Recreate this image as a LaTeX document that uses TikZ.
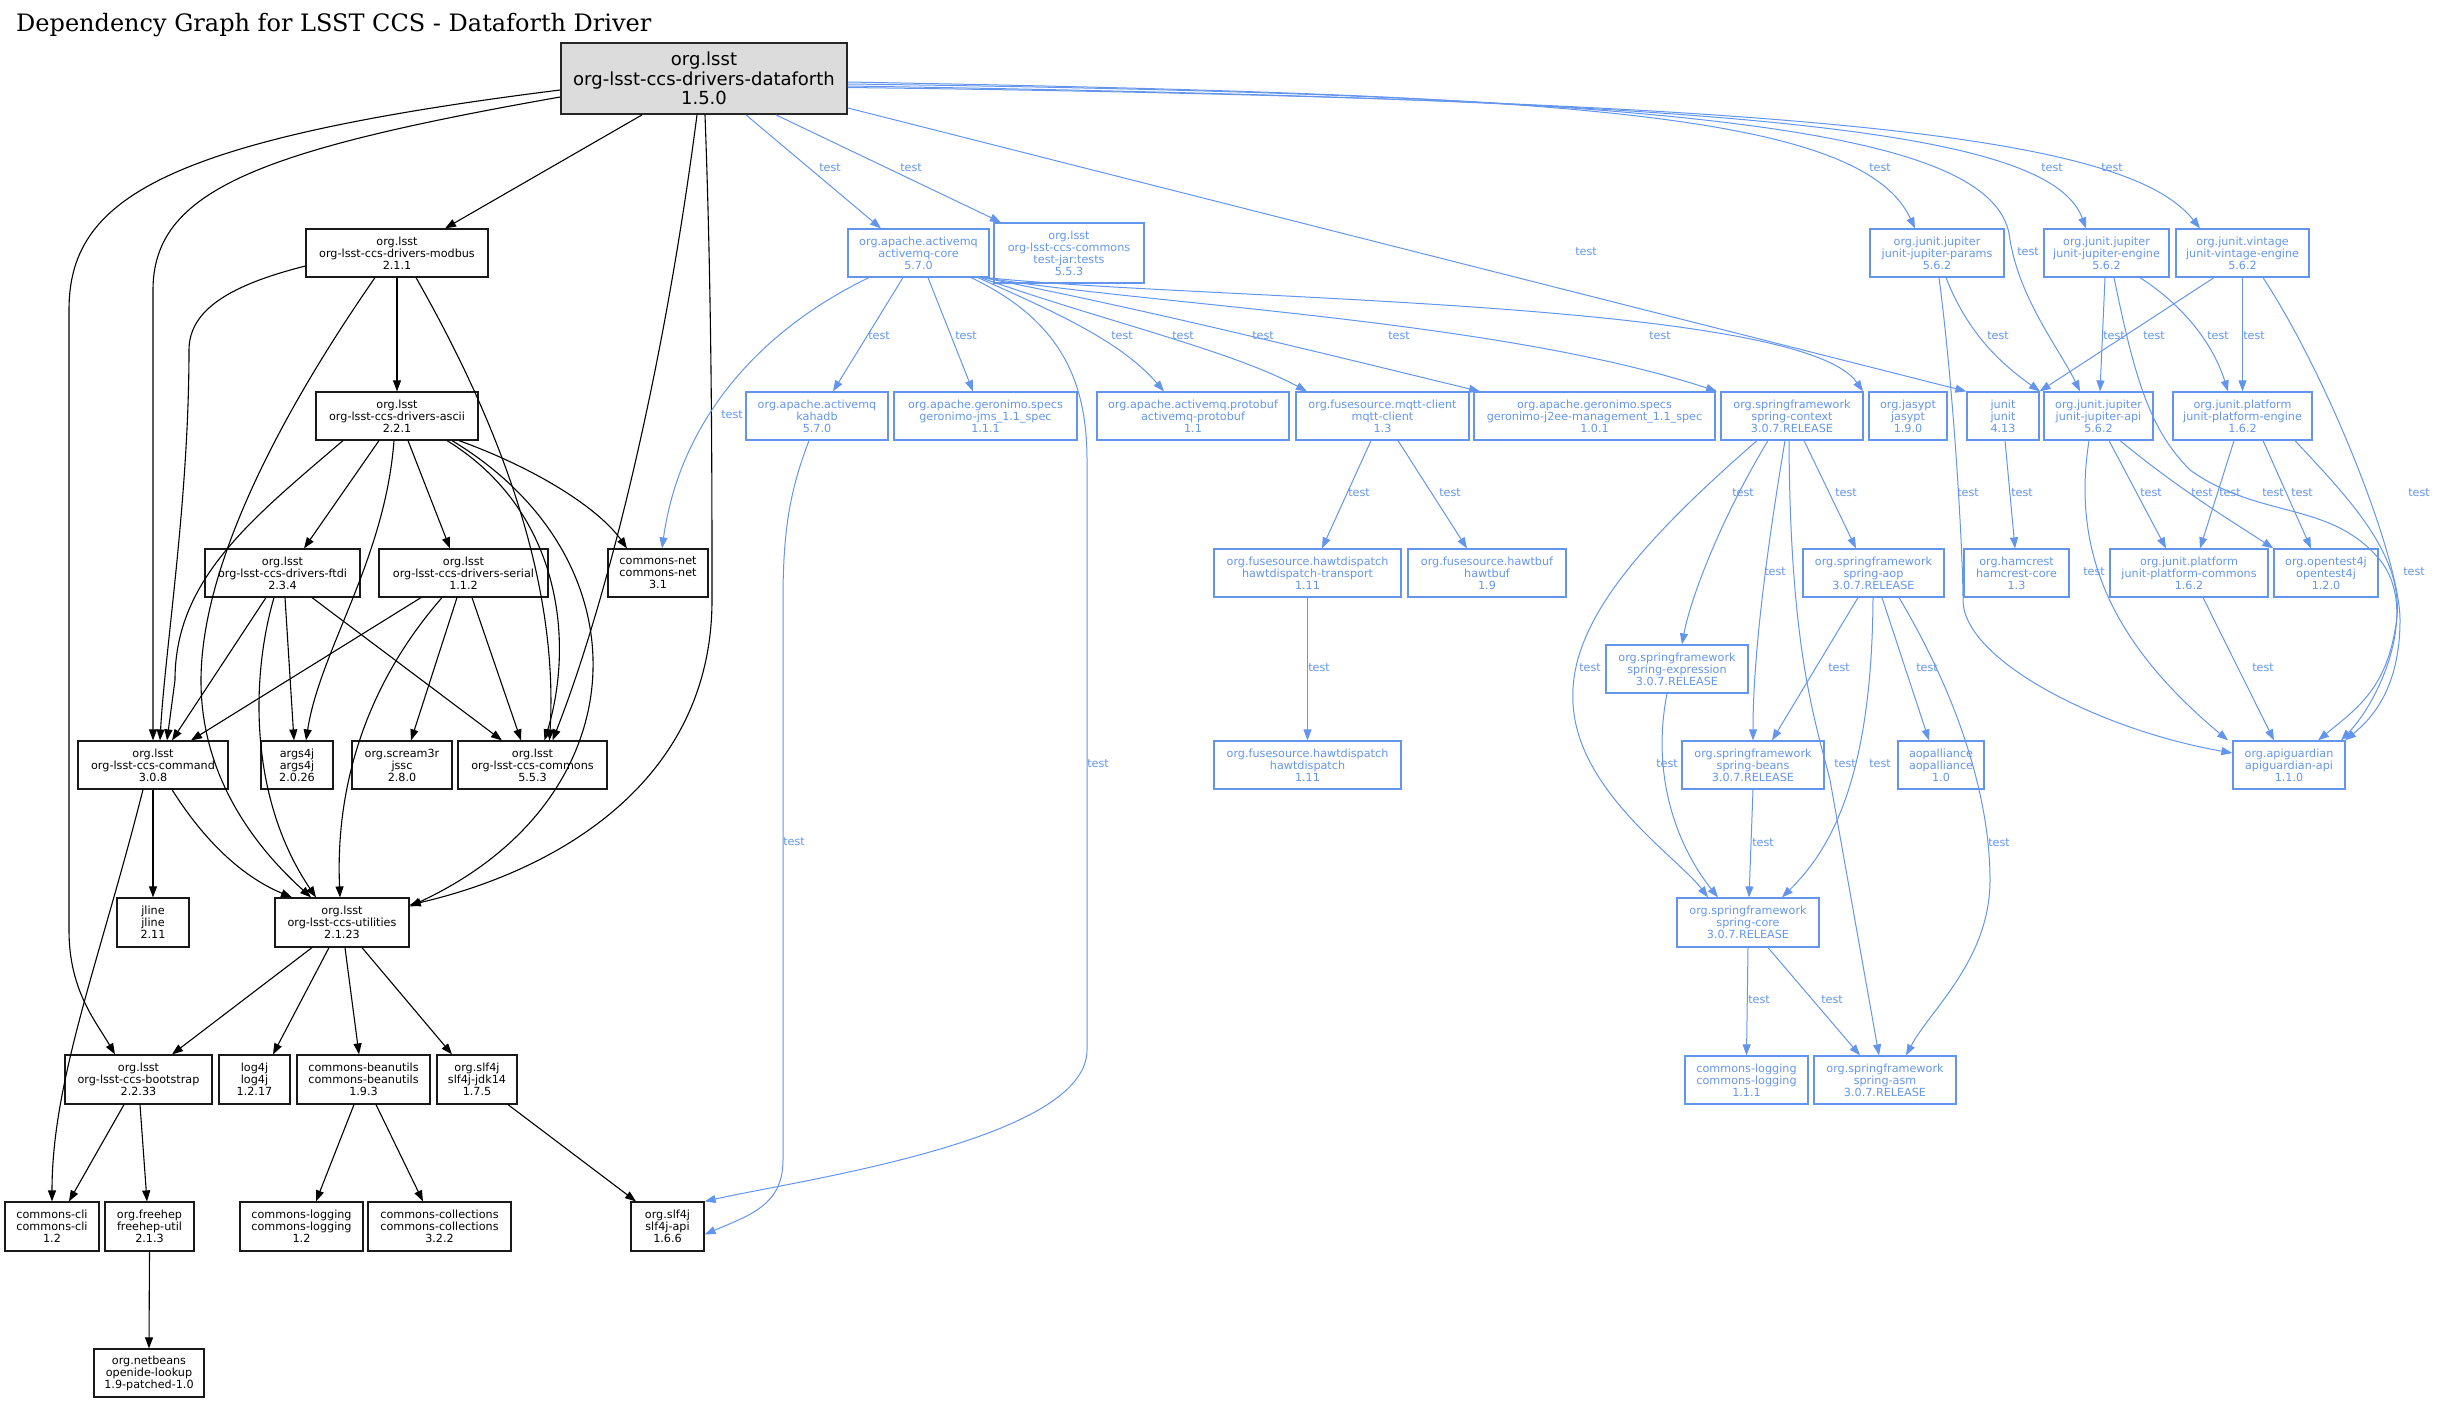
\documentclass[tikz,border=0pt]{standalone}
\usepackage{fontspec}
\setmainfont{DejaVu Sans}
\newfontfamily\titlefont{DejaVu Serif}
\usetikzlibrary{arrows.meta}
\definecolor{tblue}{HTML}{6495ED}
\definecolor{rootfill}{HTML}{DCDCDC}
\newcommand\smallfnt{\fontsize{11.2}{12}\selectfont}
\newcommand\mknode[7]{\node[#2, minimum width={#4pt-#3pt}, minimum height={#6pt-#5pt}] (#1) at ({(#3+#4)/2},{(#5+#6)/2}) {#7};}
\tikzset{
  bn/.style={draw=black!90, line width=1.2pt, text=black, font=\smallfnt, align=center, inner sep=0pt, rectangle},
  tn/.style={draw=tblue, line width=1.2pt, text=tblue, font=\smallfnt, align=center, inner sep=0pt, rectangle},
  rn/.style={draw=black!85, line width=1.8pt, fill=rootfill, text=black, font=\fontsize{18}{19.5}\selectfont, align=center, inner sep=0pt},
  be/.style={draw=black, line width=1.1pt, -{Triangle[length=11pt,width=8pt]}},
  te/.style={draw=tblue, line width=1pt, -{Triangle[length=11pt,width=8pt]}},
  lbl/.style={text=tblue, font=\smallfnt, inner sep=0pt},
}
\begin{document}
\begin{tikzpicture}[x=1pt,y=-1pt]
\useasboundingbox (0,0) rectangle (2444,1403);
\node[anchor=base west, font=\titlefont\fontsize{24}{28}\selectfont, inner sep=0pt] (title) at (16,31) {Dependency Graph for LSST CCS - Dataforth Driver};
% ---- compile nodes
\mknode{root}{rn}{561}{847}{43}{114}{org.lsst\\org-lsst-ccs-drivers-dataforth\\1.5.0}
\mknode{modbus}{bn}{306}{488}{229}{277}{org.lsst\\org-lsst-ccs-drivers-modbus\\2.1.1}
\mknode{ascii}{bn}{316}{478}{392}{440}{org.lsst\\org-lsst-ccs-drivers-ascii\\2.2.1}
\mknode{ftdi}{bn}{205}{360}{549}{597}{org.lsst\\org-lsst-ccs-drivers-ftdi\\2.3.4}
\mknode{serial}{bn}{379}{548}{549}{597}{org.lsst\\org-lsst-ccs-drivers-serial\\1.1.2}
\mknode{cnet}{bn}{608}{708}{549}{597}{commons-net\\commons-net\\3.1}
\mknode{command}{bn}{78}{228}{741}{789}{org.lsst\\org-lsst-ccs-command\\3.0.8}
\mknode{args4j}{bn}{261}{333}{741}{789}{args4j\\args4j\\2.0.26}
\mknode{jssc}{bn}{352}{452}{741}{789}{org.scream3r\\jssc\\2.8.0}
\mknode{commons}{bn}{458}{607}{741}{789}{org.lsst\\org-lsst-ccs-commons\\5.5.3}
\mknode{jline}{bn}{117}{189}{898}{947}{jline\\jline\\2.11}
\mknode{utilities}{bn}{275}{409}{898}{947}{org.lsst\\org-lsst-ccs-utilities\\2.1.23}
\mknode{bootstrap}{bn}{65}{212}{1055}{1104}{org.lsst\\org-lsst-ccs-bootstrap\\2.2.33}
\mknode{log4j}{bn}{219}{290}{1055}{1104}{log4j\\log4j\\1.2.17}
\mknode{beanutils}{bn}{297}{430}{1055}{1104}{commons-beanutils\\commons-beanutils\\1.9.3}
\mknode{jdk14}{bn}{437}{517}{1055}{1104}{org.slf4j\\slf4j-jdk14\\1.7.5}
\mknode{cli}{bn}{5}{99}{1202}{1251}{commons-cli\\commons-cli\\1.2}
\mknode{freehep}{bn}{105}{194}{1202}{1251}{org.freehep\\freehep-util\\2.1.3}
\mknode{clog12}{bn}{240}{363}{1202}{1251}{commons-logging\\commons-logging\\1.2}
\mknode{ccoll}{bn}{368}{511}{1202}{1251}{commons-collections\\commons-collections\\3.2.2}
\mknode{slfapi}{bn}{631}{704}{1202}{1251}{org.slf4j\\slf4j-api\\1.6.6}
\mknode{openide}{bn}{94}{204}{1349}{1397}{org.netbeans\\openide-lookup\\1.9-patched-1.0}
% ---- test nodes
\mknode{amqcore}{tn}{848}{989}{229}{277}{org.apache.activemq\\activemq-core\\5.7.0}
\mknode{testjar}{tn}{994}{1144}{223}{283}{org.lsst\\org-lsst-ccs-commons\\test-jar:tests\\5.5.3}
\mknode{kahadb}{tn}{746}{888}{392}{440}{org.apache.activemq\\kahadb\\5.7.0}
\mknode{gjms}{tn}{894}{1077}{392}{440}{org.apache.geronimo.specs\\geronimo-jms\_1.1\_spec\\1.1.1}
\mknode{protobuf}{tn}{1097}{1289}{392}{440}{org.apache.activemq.protobuf\\activemq-protobuf\\1.1}
\mknode{mqtt}{tn}{1296}{1469}{392}{440}{org.fusesource.mqtt-client\\mqtt-client\\1.3}
\mknode{jee}{tn}{1474}{1715}{392}{440}{org.apache.geronimo.specs\\geronimo-j2ee-management\_1.1\_spec\\1.0.1}
\mknode{sctx}{tn}{1721}{1863}{392}{440}{org.springframework\\spring-context\\3.0.7.RELEASE}
\mknode{jasypt}{tn}{1869}{1947}{392}{440}{org.jasypt\\jasypt\\1.9.0}
\mknode{junit}{tn}{1967}{2039}{392}{440}{junit\\junit\\4.13}
\mknode{japi}{tn}{2044}{2153}{392}{440}{org.junit.jupiter\\junit-jupiter-api\\5.6.2}
\mknode{peng}{tn}{2173}{2312}{392}{440}{org.junit.platform\\junit-platform-engine\\1.6.2}
\mknode{jparams}{tn}{1870}{2004}{229}{277}{org.junit.jupiter\\junit-jupiter-params\\5.6.2}
\mknode{jengine}{tn}{2044}{2169}{229}{277}{org.junit.jupiter\\junit-jupiter-engine\\5.6.2}
\mknode{vintage}{tn}{2176}{2309}{229}{277}{org.junit.vintage\\junit-vintage-engine\\5.6.2}
\mknode{hdtrans}{tn}{1214}{1401}{549}{597}{org.fusesource.hawtdispatch\\hawtdispatch-transport\\1.11}
\mknode{hawtbuf}{tn}{1408}{1566}{549}{597}{org.fusesource.hawtbuf\\hawtbuf\\1.9}
\mknode{saop}{tn}{1803}{1944}{549}{597}{org.springframework\\spring-aop\\3.0.7.RELEASE}
\mknode{hamcrest}{tn}{1964}{2069}{549}{597}{org.hamcrest\\hamcrest-core\\1.3}
\mknode{pcommons}{tn}{2110}{2268}{549}{597}{org.junit.platform\\junit-platform-commons\\1.6.2}
\mknode{otj}{tn}{2274}{2378}{549}{597}{org.opentest4j\\opentest4j\\1.2.0}
\mknode{sexpr}{tn}{1606}{1748}{645}{693}{org.springframework\\spring-expression\\3.0.7.RELEASE}
\mknode{hd}{tn}{1214}{1401}{741}{789}{org.fusesource.hawtdispatch\\hawtdispatch\\1.11}
\mknode{sbeans}{tn}{1682}{1824}{741}{789}{org.springframework\\spring-beans\\3.0.7.RELEASE}
\mknode{aop}{tn}{1898}{1984}{741}{789}{aopalliance\\aopalliance\\1.0}
\mknode{apig}{tn}{2233}{2345}{741}{789}{org.apiguardian\\apiguardian-api\\1.1.0}
\mknode{score}{tn}{1677}{1819}{898}{947}{org.springframework\\spring-core\\3.0.7.RELEASE}
\mknode{clogb}{tn}{1685}{1808}{1056}{1104}{commons-logging\\commons-logging\\1.1.1}
\mknode{sasm}{tn}{1814}{1956}{1056}{1104}{org.springframework\\spring-asm\\3.0.7.RELEASE}
% ---- compile edges
\draw[be] ([xshift=-62pt]root.south) -- ([xshift=48pt]modbus.north);
\draw[be] ([yshift=-18.5pt]root.west) .. controls (260,150) and (153,190) .. (153,290) -- (command.north);
\draw[be] ([yshift=-11.5pt]root.west) .. controls (160,140) and (69,200) .. (69,310) -- (69,930) .. controls (69,990) and (95,1020) .. ([xshift=-23.5pt]bootstrap.north);
\draw[be] ([xshift=-7pt]root.south) .. controls (660,400) and (600,620) .. ([xshift=20pt]commons.north);
\draw[be] ([xshift=1pt]root.south) .. controls (712,300) and (712,480) .. (712,600) .. controls (712,780) and (560,870) .. ([yshift=17.5pt]utilities.east);
\draw[be] ([yshift=-13pt]modbus.west) .. controls (230,285) and (189,310) .. (189,350) .. controls (189,500) and (165,650) .. ([xshift=7pt]command.north);
\draw[be] ([xshift=-22pt]modbus.south) .. controls (290,400) and (200,560) .. (201,683) .. controls (202,790) and (270,860) .. ([xshift=-31pt]utilities.north);
\draw[be] (modbus.south) -- (ascii.north);
\draw[be] ([xshift=19pt]modbus.south) .. controls (480,390) and (560,560) .. ([xshift=17pt]commons.north);
\draw[be] ([xshift=-54pt]ascii.south) .. controls (250,520) and (175,580) .. (175,680) -- ([xshift=14pt]command.north);
\draw[be] ([xshift=-18pt]ascii.south) -- ([xshift=21.5pt]ftdi.north);
\draw[be] ([xshift=-3pt]ascii.south) .. controls (385,560) and (320,650) .. ([xshift=9pt]args4j.north);
\draw[be] ([xshift=11pt]ascii.south) -- ([xshift=-13.5pt]serial.north);
\draw[be] ([xshift=62pt]ascii.south) .. controls (540,470) and (600,510) .. ([xshift=-31pt]cnet.north);
\draw[be] ([xshift=50pt]ascii.south) .. controls (560,510) and (575,640) .. ([xshift=12pt]commons.north);
\draw[be] ([xshift=55pt]ascii.south) .. controls (650,560) and (640,800) .. ([yshift=16pt]utilities.east);
\draw[be] ([xshift=-16.5pt]ftdi.south) -- ([xshift=19pt]command.north);
\draw[be] ([xshift=-8.5pt]ftdi.south) .. controls (250,680) and (250,800) .. ([xshift=-26pt]utilities.north);
\draw[be] ([xshift=2.5pt]ftdi.south) -- ([xshift=-3pt]args4j.north);
\draw[be] ([xshift=29.5pt]ftdi.south) -- ([xshift=-30.5pt]commons.north);
\draw[be] ([xshift=-42.5pt]serial.south) -- ([xshift=38pt]command.north);
\draw[be] ([xshift=-21.5pt]serial.south) .. controls (370,680) and (335,780) .. ([xshift=-2pt]utilities.north);
\draw[be] ([xshift=-6.5pt]serial.south) -- ([xshift=9pt]jssc.north);
\draw[be] ([xshift=8.5pt]serial.south) -- ([xshift=-11.5pt]commons.north);
\draw[be] (command.south) -- (jline.north);
\draw[be] ([xshift=19pt]command.south) .. controls (210,850) and (250,880) .. ([xshift=-50pt]utilities.north);
\draw[be] ([xshift=-10pt]command.south) .. controls (100,960) and (52,1080) .. (cli.north);
\draw[be] ([xshift=-30pt]utilities.south) -- ([xshift=33.5pt]bootstrap.north);
\draw[be] ([xshift=-13pt]utilities.south) -- ([xshift=18.5pt]log4j.north);
\draw[be] ([xshift=3pt]utilities.south) -- ([xshift=-4.5pt]beanutils.north);
\draw[be] ([xshift=20pt]utilities.south) -- ([xshift=-25pt]jdk14.north);
\draw[be] ([xshift=-14.5pt]bootstrap.south) -- ([xshift=17pt]cli.north);
\draw[be] ([xshift=1.5pt]bootstrap.south) -- ([xshift=-2.5pt]freehep.north);
\draw[be] ([xshift=-9.5pt]beanutils.south) -- ([xshift=14.5pt]clog12.north);
\draw[be] ([xshift=12.5pt]beanutils.south) -- ([xshift=-16.5pt]ccoll.north);
\draw[be] ([xshift=31pt]jdk14.south) -- ([xshift=-31.5pt]slfapi.north);
\draw[be] (freehep.south) -- (openide.north);
% ---- test edges
\draw[te] ([xshift=42pt]root.south) -- ([xshift=-37.5pt]amqcore.north);
\draw[te] ([xshift=72pt]root.south) -- ([xshift=-68pt]testjar.north);
\draw[te] ([yshift=-29.5pt]root.east) -- (junit.north west);
\draw[te] ([yshift=-3.5pt]root.east) .. controls (1550,95) and (1860,110) .. ([xshift=-22pt]jparams.north);
\draw[te] ([yshift=-5.5pt]root.east) .. controls (1700,95) and (2000,130) .. (2010,240) .. controls (2020,300) and (2060,350) .. ([xshift=-18.5pt]japi.north);
\draw[te] ([yshift=-7.5pt]root.east) .. controls (1750,100) and (2050,130) .. ([xshift=-20.5pt]jengine.north);
\draw[te] ([yshift=-9pt]root.east) .. controls (1850,100) and (2130,140) .. ([xshift=-42.5pt]vintage.north);
\draw[te] ([xshift=-49.5pt]amqcore.south) .. controls (760,330) and (680,420) .. ([xshift=4pt]cnet.north);
\draw[te] ([xshift=-15.5pt]amqcore.south) -- ([xshift=16pt]kahadb.north);
\draw[te] ([xshift=9.5pt]amqcore.south) -- ([xshift=-12.5pt]gjms.north);
\draw[te] ([xshift=52.5pt]amqcore.south) .. controls (1060,320) and (1087,380) .. (1087,460) -- (1087,1050) .. controls (1087,1140) and (800,1180) .. (slfapi.north east);
\draw[te] ([xshift=59.5pt]amqcore.south) .. controls (1050,310) and (1120,340) .. ([xshift=-29pt]protobuf.north);
\draw[te] ([xshift=62pt]amqcore.south) .. controls (1100,320) and (1230,350) .. ([xshift=-75.5pt]mqtt.north);
\draw[te] ([xshift=64pt]amqcore.south) .. controls (1150,310) and (1350,360) .. ([xshift=-114.5pt]jee.north);
\draw[te] ([xshift=66pt]amqcore.south) .. controls (1150,305) and (1500,320) .. ([xshift=-75pt]sctx.north);
\draw[te] ([xshift=68pt]amqcore.south) .. controls (1200,300) and (1800,300) .. ([xshift=-45pt]jasypt.north);
\draw[te] ([xshift=-8pt]kahadb.south) .. controls (790,490) and (783,530) .. (783,600) -- (783,1160) .. controls (783,1205) and (750,1215) .. ([yshift=-8pt]slfapi.east);
\draw[te] ([xshift=-11.5pt]mqtt.south) -- ([xshift=14.5pt]hdtrans.north);
\draw[te] ([xshift=15.5pt]mqtt.south) -- ([xshift=-20pt]hawtbuf.north);
\draw[te] (hdtrans.south) -- (hd.north);
\draw[te] ([xshift=-35pt]sctx.south) .. controls (1620,560) and (1560,640) .. (1575,720) .. controls (1590,800) and (1680,860) .. ([xshift=-40pt]score.north);
\draw[te] ([xshift=-24pt]sctx.south) .. controls (1720,520) and (1690,600) .. ([xshift=5pt]sexpr.north);
\draw[te] ([xshift=-7pt]sctx.south) .. controls (1765,560) and (1753,660) .. (sbeans.north);
\draw[te] ([xshift=-3pt]sctx.south) .. controls (1790,650) and (1815,720) .. (1830,780) -- ([xshift=-6pt]sasm.north);
\draw[te] ([xshift=12pt]sctx.south) -- ([xshift=-17.5pt]saop.north);
\draw[te] ([xshift=-15.5pt]saop.south) -- ([xshift=19pt]sbeans.north);
\draw[te] ([xshift=-0.5pt]saop.south) .. controls (1872,780) and (1830,850) .. ([xshift=34pt]score.north);
\draw[te] ([xshift=8.5pt]saop.south) -- ([xshift=-12pt]aop.north);
\draw[te] ([xshift=25.5pt]saop.south) .. controls (1960,700) and (1990,800) .. (1990,880) .. controls (1990,960) and (1930,1010) .. ([xshift=21pt]sasm.north);
\draw[te] ([xshift=-10pt]sexpr.south) .. controls (1650,780) and (1680,850) .. ([xshift=-30pt]score.north);
\draw[te] (sbeans.south) -- ([xshift=1pt]score.north);
\draw[te] (score.south) -- (clogb.north);
\draw[te] ([xshift=20pt]score.south) -- ([xshift=-25pt]sasm.north);
\draw[te] ([xshift=2pt]junit.south) -- ([xshift=-1.5pt]hamcrest.north);
\draw[te] ([xshift=9pt]jparams.south) .. controls (1970,340) and (2010,370) .. ([xshift=-58.5pt]japi.north);
\draw[te] ([xshift=2pt]jparams.south) .. controls (1955,400) and (1963,560) .. (1963,600) .. controls (1963,660) and (2100,730) .. ([yshift=12pt]apig.west);
\draw[te] ([xshift=-1.5pt]jengine.south) -- ([xshift=1.5pt]japi.north);
\draw[te] ([xshift=33.5pt]jengine.south) .. controls (2190,310) and (2215,350) .. ([xshift=-14.5pt]peng.north);
\draw[te] ([xshift=7.5pt]jengine.south) .. controls (2135,380) and (2150,430) .. (2190,470) .. controls (2260,520) and (2330,500) .. (2380,560) .. controls (2420,610) and (2380,700) .. ([xshift=52pt]apig.north);
\draw[te] ([xshift=-28.5pt]vintage.south) -- (junit.north east);
\draw[te] (vintage.south) -- (peng.north);
\draw[te] ([xshift=20.5pt]vintage.south) .. controls (2330,380) and (2400,560) .. (2400,620) .. controls (2400,690) and (2370,720) .. ([xshift=56pt]apig.north);
\draw[te] ([xshift=-9.5pt]japi.south) .. controls (2070,560) and (2120,650) .. ([xshift=-61pt]apig.north);
\draw[te] ([xshift=10.5pt]japi.south) -- ([xshift=-23pt]pcommons.north);
\draw[te] ([xshift=21.5pt]japi.south) .. controls (2180,490) and (2230,520) .. (otj.north west);
\draw[te] ([xshift=-8.5pt]peng.south) -- ([xshift=11pt]pcommons.north);
\draw[te] ([xshift=20.5pt]peng.south) -- ([xshift=-15pt]otj.north);
\draw[te] ([xshift=52.5pt]peng.south) .. controls (2350,500) and (2410,560) .. (2395,630) .. controls (2385,690) and (2355,710) .. ([xshift=29pt]apig.north);
\draw[te] ([xshift=14pt]pcommons.south) -- ([xshift=-15pt]apig.north);
% ---- labels
\foreach \n/\x/\y in {l1/830/168, l2/911/168, l3/1586/252, l4/1880/168, l5/2028/252, l6/2052/168, l7/2112/168,
  l8/732/415, l9/879/336, l10/966/336, l11/1098/764, l12/1122/336, l13/1183/336, l14/1263/336, l15/1399/336, l16/1660/336,
  l17/794/842, l18/1359/493, l19/1450/493, l20/1319/668, l21/1590/668, l22/1743/493, l23/1775/572, l24/1845/764, l25/1846/493,
  l26/1839/668, l27/1880/764, l28/1927/668, l29/1999/843, l30/1667/764, l31/1763/843, l32/1759/1000, l33/1832/1000,
  l34/2022/493, l35/1998/336, l36/1968/493, l37/2114/336, l38/2218/336, l39/2273/493, l40/2154/336, l41/2254/336,
  l42/2419/493, l43/2094/572, l44/2151/493, l45/2202/493, l46/2230/493, l47/2302/493, l48/2414/572, l49/2263/668}
  {\node[lbl] (\n) at (\x,\y) {test};}
\end{tikzpicture}
\end{document}
